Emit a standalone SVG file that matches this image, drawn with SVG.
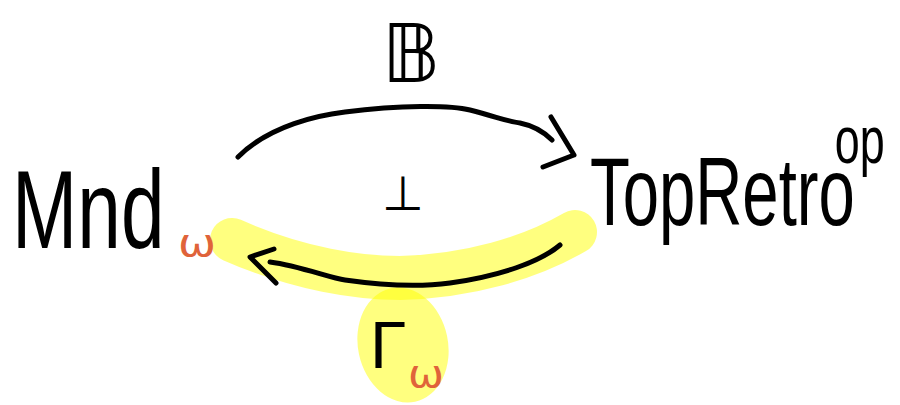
<svg xmlns="http://www.w3.org/2000/svg" width="900" height="405" viewBox="0 0 900 405">
  <style>
    .ink { fill: #000; font-family: "Liberation Sans", "DejaVu Sans", sans-serif; }
    .sub { fill: #e0633a; font-family: "DejaVu Sans", "Liberation Sans", sans-serif; }
    .hl { stroke: #ffff00; stroke-opacity: 0.5; fill: none; stroke-linecap: round; stroke-linejoin: round; }
    .edge { fill: none; stroke: #000; stroke-width: 5; stroke-linecap: round; stroke-linejoin: round; }
  </style>
  <rect width="900" height="405" fill="#fff"/>

  <!-- highlighter marks -->
  <g id="highlight">
    <path class="hl" stroke-width="44" d="M232,240 C300,270 360,278 400,278 C470,276 530,258 575,232"/>
    <ellipse cx="403" cy="345" rx="45" ry="58" transform="rotate(-12 403 345)" fill="#ffff00" fill-opacity="0.5"/>
  </g>

  <!-- connectors -->
  <g id="connectors">
    <path class="edge" d="M238,157 C270,125 320,115 345,112 C400,105 450,105 470,110 C500,118 510,122 520,123 C535,126 545,133 552,140"/>
    <path class="edge" d="M551,117 L574,155 L543,167"/>
    <path class="edge" d="M270,262 C300,266 330,278 345,280 C380,285 420,287 450,283 C500,276 540,262 560,245"/>
    <path class="edge" d="M274,249 L250,257 L276,283"/>
  </g>

  <g id="node-mnd">
    <!-- tall, narrow lettering: horizontal squeeze -->
    <text class="ink" font-size="112" transform="translate(12 248) scale(0.7 1)">Mnd</text>
    <text class="sub" x="178" y="256" font-size="38" textLength="38" lengthAdjust="spacingAndGlyphs">ω</text>
  </g>

  <g id="node-topretro">
    <text class="ink" font-size="96" transform="translate(590 225) scale(0.68 1)">TopRetro<tspan x="360" y="-62" font-size="66">op</tspan></text>
  </g>

  <g id="label-b">
    <text class="ink" x="411" y="82" font-size="80" text-anchor="middle">𝔹</text>
  </g>

  <g id="label-perp">
    <text class="ink" x="403" y="210" font-size="48" text-anchor="middle">⊥</text>
  </g>

  <g id="label-gamma">
    <text class="ink" x="370" y="368" font-size="66">Γ<tspan class="sub" x="408" y="387" font-size="38" textLength="36" lengthAdjust="spacingAndGlyphs">ω</tspan></text>
  </g>
</svg>
